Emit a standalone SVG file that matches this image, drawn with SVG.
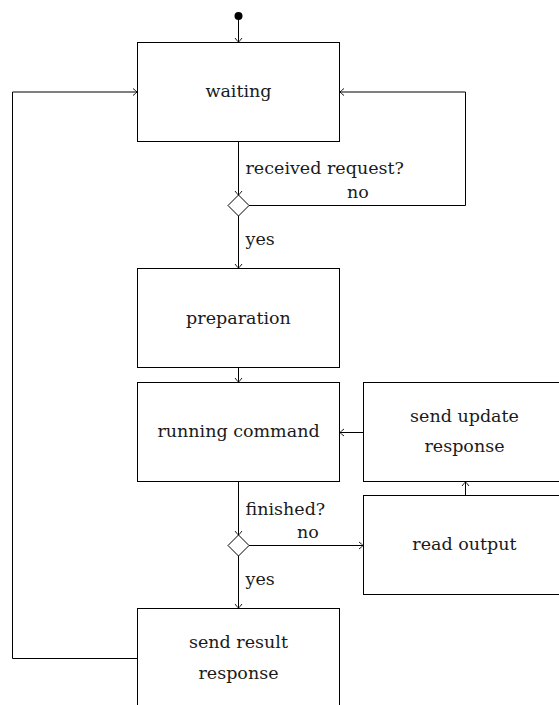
<svg xmlns="http://www.w3.org/2000/svg" width="559" height="705" viewBox="0 0 559 705">
  <style>
    .box { fill: #fff; stroke: #000; stroke-width: 1; }
    text { fill: #1a1a1a; }
    .mid { text-anchor: middle; }
    .wire { fill: none; stroke: #000; stroke-width: 1; marker-end: url(#to); }
    .dia { fill: #fff; stroke: #000; stroke-width: 1; }
  </style>
  <defs>
    <marker id="to" markerUnits="userSpaceOnUse" markerWidth="12" markerHeight="12" viewBox="-6 -6 12 12" refX="0" refY="0" orient="auto">
      <path d="M -4 -3.5 Q -1 -1.2 0 0 Q -1 1.2 -4 3.5" fill="none" stroke="#000" stroke-width="0.9"/>
    </marker>
  </defs>

  <rect width="559" height="705" fill="#fff"/>

  <g font-family="DejaVu Serif, serif" font-size="17.5">
    <!-- connectors, decision diamonds and edge labels -->
    <g id="connectors">
      <circle cx="238.5" cy="16" r="4" fill="#000"/>
      <line class="wire" x1="238.5" y1="16" x2="238.5" y2="42"/>
      <line class="wire" x1="238.5" y1="141.5" x2="238.5" y2="195"/>
      <polyline class="wire" points="249,205.5 465.5,205.5 465.5,92 340,92"/>
      <line class="wire" x1="238.5" y1="216" x2="238.5" y2="268"/>
      <line class="wire" x1="238.5" y1="367.5" x2="238.5" y2="382"/>
      <line class="wire" x1="238.5" y1="481.5" x2="238.5" y2="535"/>
      <line class="wire" x1="249" y1="545.5" x2="363" y2="545.5"/>
      <line class="wire" x1="238.5" y1="556" x2="238.5" y2="608"/>
      <polyline class="wire" points="137,658.5 12.5,658.5 12.5,92 137,92"/>
      <line class="wire" x1="363.5" y1="432.5" x2="340" y2="432.5"/>
      <line class="wire" x1="465.5" y1="495.5" x2="465.5" y2="482"/>
      <polygon class="dia" points="238.5,195 249,205.5 238.5,216 228,205.5"/>
      <polygon class="dia" points="238.5,535 249,545.5 238.5,556 228,545.5"/>
      <text x="245.5" y="173.5">received request?</text>
      <text x="347" y="197.5">no</text>
      <text x="245.5" y="245">yes</text>
      <text x="245.5" y="515">finished?</text>
      <text x="297" y="537.5">no</text>
      <text x="245.5" y="585">yes</text>
    </g>

    <g id="waiting">
      <rect class="box" x="137.5" y="42.5" width="202" height="99"/>
      <text class="mid" x="238.5" y="97">waiting</text>
    </g>

    <g id="preparation">
      <rect class="box" x="137.5" y="268.5" width="202" height="99"/>
      <text class="mid" x="238.5" y="323.5">preparation</text>
    </g>

    <g id="running">
      <rect class="box" x="137.5" y="382.5" width="202" height="99"/>
      <text class="mid" x="238.5" y="437">running command</text>
    </g>

    <g id="send-update">
      <rect class="box" x="363.5" y="382.5" width="202" height="99"/>
      <text class="mid" x="464.5" y="422">send update</text>
      <text class="mid" x="464.5" y="452">response</text>
    </g>

    <g id="read-output">
      <rect class="box" x="363.5" y="495.5" width="202" height="99"/>
      <text class="mid" x="464.5" y="550">read output</text>
    </g>

    <g id="send-result">
      <rect class="box" x="137.5" y="608.5" width="202" height="99"/>
      <text class="mid" x="238.5" y="648">send result</text>
      <text class="mid" x="238.5" y="679">response</text>
    </g>
  </g>
</svg>
